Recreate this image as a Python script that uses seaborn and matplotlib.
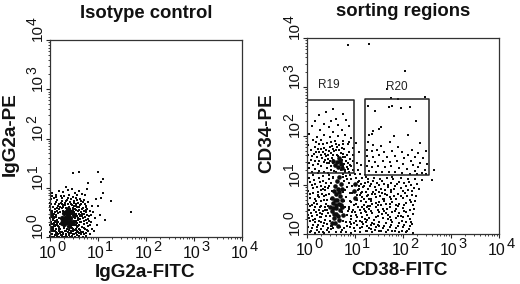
import numpy as np
import matplotlib
matplotlib.use('Agg')
import matplotlib.pyplot as plt
import matplotlib.ticker as mticker
import seaborn as sns

sns.set_style('white')
plt.rcParams['font.family'] = ['Liberation Sans', 'DejaVu Sans']

# all points are log10 positions (decades)
iso_dots = [
    (0.48,1.30),(0.60,1.32),(1.00,1.32),(1.10,1.17),(1.07,1.12),(0.80,1.10),(0.78,0.98),(1.10,0.90),
    (1.07,0.80),(0.95,0.78),(1.27,0.73),(1.68,0.50),(1.15,0.35),(1.00,0.62),(1.05,0.45),(0.88,0.62),
    (0.90,0.50),(0.93,0.38),(0.85,0.30),(0.97,0.25),(0.87,0.17),(0.82,0.42),(0.80,0.72),(0.76,0.60),
    (0.33,1.02),(0.37,0.95),(0.27,0.92),(0.45,0.97),(0.52,0.90),(0.60,0.93),(0.66,0.88),(0.72,0.85),
    (0.05,0.90),(0.12,0.86),(0.18,0.93),(0.22,0.84),(0.30,0.83),(0.40,0.86),(0.47,0.82),(0.55,0.80),
    (0.62,0.78),(0.70,0.75),(0.75,0.50),(0.08,0.80),(0.15,0.76),(0.25,0.74),(0.35,0.76),(0.42,0.72),
    (0.50,0.74),(0.58,0.70),(0.65,0.68),(0.72,0.66),(0.78,0.45),(0.02,0.78),(0.01,0.70),(0.10,0.68),
    (0.18,0.66),(0.28,0.65),(0.37,0.67),(0.46,0.64),(0.54,0.62),(0.61,0.60),(0.68,0.58),(0.74,0.55),
    (0.01,0.62),(0.07,0.60),(0.14,0.58),(0.21,0.60),(0.52,0.56),(0.58,0.52),(0.65,0.50),(0.71,0.46),
    (0.01,0.54),(0.05,0.52),(0.11,0.50),(0.16,0.48),(0.55,0.46),(0.62,0.42),(0.68,0.38),(0.74,0.34),
    (0.02,0.46),(0.07,0.44),(0.12,0.41),(0.53,0.38),(0.59,0.34),(0.65,0.30),(0.71,0.26),(0.79,0.22),
    (0.01,0.38),(0.06,0.36),(0.11,0.32),(0.55,0.30),(0.61,0.25),(0.67,0.20),(0.73,0.16),(0.80,0.12),
    (0.02,0.30),(0.08,0.28),(0.13,0.24),(0.50,0.24),(0.56,0.20),(0.62,0.15),(0.68,0.11),(0.75,0.08),
    (0.01,0.24),(0.06,0.20),(0.12,0.17),(0.18,0.20),(0.45,0.18),(0.52,0.14),(0.58,0.10),(0.64,0.06),
    (0.02,0.16),(0.07,0.13),(0.13,0.10),(0.19,0.13),(0.25,0.10),(0.31,0.13),(0.38,0.10),(0.44,0.08),
    (0.50,0.06),(0.56,0.04),(0.01,0.10),(0.05,0.06),(0.10,0.04),(0.16,0.06),(0.22,0.04),(0.28,0.06),
    (0.34,0.03),(0.40,0.05),(0.46,0.02),(0.52,0.01),(0.60,0.02),(0.68,0.01),(0.74,0.03),(0.01,0.03),
    (0.04,0.01),(0.09,0.01),(0.14,0.02),(0.19,0.01),(0.24,0.02),(0.30,0.01),(0.36,0.01),(0.42,0.01),
    (0.03,0.67),(0.13,0.71),(0.23,0.69),(0.33,0.73),(0.43,0.66),(0.49,0.69),(0.57,0.75),(0.63,0.64),
    (0.69,0.71),(0.77,0.57),(0.83,0.53),(0.67,0.47),(0.73,0.41),(0.79,0.36),(0.84,0.24),(0.71,0.33),
    (0.63,0.37),(0.57,0.43),(0.61,0.55),(0.55,0.67),(0.47,0.59),(0.41,0.56),(0.27,0.61),(0.19,0.56),
    (0.09,0.47),(0.15,0.53),(0.04,0.41),(0.14,0.35),(0.09,0.39),(0.17,0.31),(0.04,0.27),(0.10,0.22),
    (0.16,0.23),(0.21,0.17),(0.29,0.18),(0.39,0.14),(0.47,0.12),(0.54,0.17),(0.59,0.23),(0.64,0.11),
    (0.70,0.19),(0.77,0.14),(0.83,0.06),(0.71,0.06),(0.61,0.08),(0.54,0.08),(0.48,0.16),(0.33,0.07),
    (0.20,0.08),(0.12,0.07),(0.07,0.17),(0.03,0.20),(0.57,0.28),(0.60,0.46),(0.66,0.57),(0.74,0.63),
    (0.82,0.33),(0.86,0.45),(0.78,0.29),(0.91,0.13),(0.66,0.42),(0.57,0.60),(0.51,0.50),(0.70,0.52),
    (0.37,0.80),(0.24,0.79),(0.13,0.81),(0.57,0.85),(0.44,0.78),(0.04,0.84),(0.64,0.74),(0.31,0.70),
]
iso_mid = [
    (0.10,0.56),(0.16,0.62),(0.24,0.58),(0.32,0.64),(0.40,0.60),(0.48,0.54),(0.52,0.46),(0.50,0.32),
    (0.54,0.24),(0.44,0.12),(0.36,0.16),(0.18,0.16),(0.08,0.24),(0.06,0.34),(0.04,0.48),(0.14,0.08),
    (0.28,0.08),(0.40,0.08),(0.02,0.16),(0.02,0.30),(0.02,0.44),(0.56,0.12),(0.58,0.38),(0.62,0.30),
    (0.21,0.26),(0.13,0.44),(0.20,0.50),(0.45,0.25),(0.30,0.20),(0.11,0.13),(0.50,0.40),(0.34,0.58),
    (0.15,0.27),(0.19,0.38),(0.27,0.52),(0.43,0.66),(0.55,0.55),(0.60,0.17),(0.33,0.12),(0.22,0.11),
    (0.08,0.40),(0.12,0.30),(0.05,0.13),(0.26,0.68),(0.49,0.62),(0.64,0.44),(0.54,0.33),(0.48,0.07),
]
iso_core = [
    (0.37,0.44),(0.31,0.38),(0.42,0.38),(0.36,0.31),(0.29,0.48),(0.44,0.50),(0.37,0.56),(0.24,0.38),
    (0.47,0.30),(0.30,0.26),(0.40,0.23),(0.50,0.44),(0.25,0.28),(0.33,0.50),(0.40,0.50),(0.28,0.33),
    (0.34,0.37),(0.42,0.30),
]

sort_dots = [
    (0.85,3.85),(1.30,3.88),(2.05,3.33),(1.67,2.95),(1.75,2.78),(1.90,2.75),(2.45,2.80),(2.65,1.30),
    (2.60,1.10),(0.55,2.55),(0.40,2.48),(0.75,2.45),(0.25,2.42),(0.60,2.35),(0.16,2.30),(0.82,2.32),
    (0.50,2.30),(0.35,2.25),(0.65,2.22),(0.10,2.20),(0.88,2.20),(0.45,2.18),(0.72,2.12),(0.27,2.12),
    (0.55,2.08),(0.05,2.05),(0.36,2.03),(0.80,2.02),(0.64,2.00),(0.20,1.98),(0.48,1.97),(0.92,1.95),
    (0.30,1.92),(0.12,1.92),(0.58,1.90),(0.75,1.90),(0.42,1.86),(0.85,1.84),(0.25,1.84),(0.03,1.82),
    (0.66,1.82),(0.52,1.80),(0.16,1.78),(0.35,1.76),(0.95,1.76),(0.78,1.74),(0.08,1.72),(0.60,1.72),
    (0.46,1.70),(0.26,1.68),(0.88,1.68),(0.70,1.66),(0.14,1.64),(0.38,1.64),(0.02,1.62),(0.96,1.62),
    (0.54,1.62),(0.20,1.58),(0.80,1.58),(0.32,1.56),(0.90,1.54),(0.08,1.52),(0.44,1.54),(0.16,1.48),
    (0.26,1.50),(0.96,1.48),(0.04,1.44),(0.36,1.46),(0.86,1.44),(0.12,1.40),(0.22,1.42),(0.92,1.38),
    (0.30,1.38),(0.04,1.34),(0.16,1.32),(0.42,1.34),(0.86,1.32),(0.96,1.30),(0.26,1.28),(0.10,1.27),
    (0.35,1.26),(0.80,1.27),(1.05,1.45),(1.08,1.68),(1.02,1.85),(1.06,1.30),(1.12,1.40),(1.10,1.22),
    (1.27,2.62),(1.42,2.52),(1.70,2.60),(1.78,2.62),(1.95,2.58),(2.15,2.60),(2.28,2.30),(1.50,2.15),
    (1.55,2.18),(1.38,2.10),(1.35,2.05),(1.30,2.03),(1.82,2.00),(2.10,2.03),(2.35,1.85),(2.48,1.70),
    (1.28,1.88),(1.38,1.82),(1.55,1.80),(1.72,1.88),(1.90,1.78),(2.18,1.72),(2.32,1.65),(1.26,1.72),
    (1.35,1.70),(1.46,1.72),(1.60,1.68),(1.78,1.70),(1.98,1.68),(2.10,1.62),(2.25,1.58),(2.42,1.55),
    (1.26,1.60),(1.38,1.58),(1.50,1.62),(1.66,1.58),(1.84,1.60),(2.02,1.55),(2.16,1.50),(2.36,1.45),
    (2.50,1.42),(1.30,1.50),(1.42,1.46),(1.58,1.50),(1.72,1.46),(1.88,1.48),(2.00,1.42),(2.20,1.40),
    (2.32,1.36),(2.46,1.30),(1.26,1.38),(1.36,1.36),(1.48,1.38),(1.62,1.36),(1.76,1.38),(1.92,1.34),
    (2.08,1.32),(2.25,1.28),(2.40,1.24),(1.30,1.28),(1.44,1.26),(1.56,1.27),(1.70,1.26),(1.84,1.26),
    (1.98,1.24),(2.14,1.23),(2.30,1.22),(2.48,1.22),
    (1.15,1.15),(1.28,1.12),(1.40,1.14),(1.52,1.12),(1.66,1.14),(1.80,1.12),(1.95,1.14),(2.10,1.12),
    (2.25,1.13),(2.40,1.10),(1.20,1.05),(1.34,1.02),(1.46,1.05),(1.60,1.02),(1.74,1.05),(1.88,1.02),
    (2.02,1.04),(2.16,1.00),(2.30,1.02),(1.16,0.95),(1.28,0.92),(1.42,0.95),(1.55,0.92),(1.68,0.95),
    (1.82,0.92),(1.96,0.94),(2.10,0.90),(2.22,0.93),(1.22,0.85),(1.36,0.82),(1.50,0.85),(1.62,0.82),
    (1.76,0.85),(1.90,0.82),(2.04,0.84),(2.18,0.80),(1.15,0.75),(1.30,0.72),(1.44,0.75),(1.58,0.72),
    (1.72,0.75),(1.86,0.72),(2.00,0.74),(2.14,0.70),(2.26,0.68),(1.22,0.65),(1.36,0.62),(1.50,0.65),
    (1.64,0.62),(1.78,0.65),(1.92,0.62),(2.06,0.64),(2.20,0.60),(1.15,0.55),(1.30,0.52),(1.44,0.55),
    (1.58,0.52),(1.72,0.55),(1.86,0.52),(2.00,0.54),(2.14,0.50),(1.22,0.45),(1.36,0.42),(1.50,0.45),
    (1.64,0.42),(1.78,0.45),(1.92,0.42),(2.06,0.44),(2.20,0.40),(1.15,0.35),(1.30,0.32),(1.44,0.35),
    (1.58,0.32),(1.72,0.35),(1.86,0.32),(2.00,0.34),(2.14,0.30),(1.22,0.25),(1.36,0.22),(1.50,0.25),
    (1.64,0.22),(1.78,0.25),(1.92,0.22),(2.06,0.24),(2.18,0.20),(1.15,0.15),(1.30,0.12),(1.44,0.15),
    (1.58,0.12),(1.72,0.15),(1.86,0.12),(2.00,0.14),(2.12,0.10),(1.22,0.06),(1.36,0.04),(1.50,0.06),
    (1.64,0.04),(1.78,0.06),(1.92,0.04),(2.06,0.05),(2.20,0.03),(1.10,0.04),
    (1.12,0.68),(1.18,0.60),(1.10,0.48),(1.24,0.38),(1.10,0.26),(1.26,0.16),(1.10,0.12),(1.20,0.30),
    (0.05,1.15),(0.14,1.10),(0.24,1.14),(0.34,1.08),(0.10,1.00),(0.20,0.96),(0.30,0.98),(0.40,1.05),
    (0.03,0.88),(0.12,0.84),(0.22,0.86),(0.32,0.82),(0.06,0.74),(0.16,0.72),(0.26,0.75),(0.36,0.70),
    (0.02,0.62),(0.10,0.60),(0.20,0.62),(0.30,0.58),(0.40,0.62),(0.05,0.50),(0.14,0.48),(0.24,0.50),
    (0.34,0.46),(0.02,0.38),(0.10,0.36),(0.20,0.38),(0.30,0.34),(0.06,0.26),(0.16,0.24),(0.26,0.27),
    (0.36,0.22),(0.02,0.14),(0.10,0.12),(0.20,0.14),(0.30,0.10),(0.06,0.04),(0.16,0.03),(0.26,0.05),
    (0.36,0.03),(0.46,0.04),(0.70,0.04),(0.82,0.05),(0.92,0.03),(1.00,0.06),(0.90,0.14),(0.98,0.22),
    (0.92,0.30),(1.02,0.38),(0.94,0.44),(1.04,0.18),(0.42,0.20),(0.40,0.36),(0.42,0.50),
    (1.13,1.03),(1.23,1.17),(1.31,0.97),(1.37,1.09),(1.43,0.89),(1.49,0.99),(1.57,1.08),(1.63,0.89),
    (1.69,1.01),(1.77,1.16),(1.83,0.97),(1.91,1.07),(1.99,0.87),(2.07,0.97),(2.13,1.06),(2.19,0.87),
    (2.27,0.78),(2.33,0.92),(1.13,0.83),(1.19,0.71),(1.27,0.79),(1.33,0.67),(1.41,0.81),(1.47,0.59),
    (1.53,0.77),(1.61,0.67),(1.67,0.79),(1.73,0.61),(1.81,0.77),(1.89,0.57),(1.95,0.77),(2.03,0.59),
    (2.09,0.77),(2.17,0.66),(2.23,0.51),(1.13,0.43),(1.19,0.51),(1.27,0.57),(1.33,0.47),(1.39,0.29),
    (1.47,0.37),(1.55,0.59),(1.61,0.47),(1.69,0.38),(1.75,0.29),(1.83,0.47),(1.89,0.37),(1.97,0.27),
    (2.03,0.47),(2.11,0.37),(2.17,0.25),(1.17,0.21),(1.25,0.07),(1.33,0.19),(1.41,0.08),(1.47,0.19),
    (1.55,0.07),(1.61,0.17),(1.69,0.09),(1.75,0.19),(1.83,0.07),(1.89,0.17),(1.97,0.07),(2.03,0.18),
    (2.09,0.07),(2.15,0.16),(0.07,1.07),(0.17,1.03),(0.27,1.07),(0.37,0.89),(0.13,0.93),(0.23,0.79),
    (0.33,0.91),(0.43,0.93),(0.07,0.81),(0.19,0.67),(0.29,0.67),(0.39,0.79),(0.07,0.57),(0.17,0.55),
    (0.27,0.43),(0.37,0.55),(0.09,0.43),(0.17,0.31),(0.27,0.35),(0.37,0.29),(0.04,0.32),(0.13,0.19),
    (0.23,0.19),(0.33,0.17),(0.43,0.13),(0.09,0.07),(0.21,0.08),(0.33,0.05),(0.41,0.09),(0.49,0.16),
    (0.83,0.16),(0.89,0.24),(0.97,0.13),(1.03,0.27),(0.91,0.37),(0.99,0.45),(0.87,0.51),(1.07,0.55),
    (0.89,0.67),(1.05,0.69),(1.11,0.79),(0.89,0.83),(1.09,0.91),(0.88,1.04),(1.09,1.09),(0.90,1.20),
    (0.13,1.21),(0.23,1.24),(0.33,1.18),(0.45,1.20),(0.55,1.17),(0.74,1.22),(0.82,1.18),(1.01,1.22),
    (0.41,1.44),(0.49,1.38),(0.55,1.44),(0.76,1.38),(0.83,1.37),(0.47,1.50),(0.55,1.52),(0.76,1.58),
    (0.62,1.62),(0.40,1.72),(0.55,1.74),(0.66,1.72),(0.84,1.62),(0.30,1.62),(0.44,1.62),(0.22,1.74),
    (0.10,1.60),(0.18,1.68),(0.74,1.84),(0.60,1.84),(0.50,1.88),(0.34,1.84),(0.88,1.88),(0.18,1.88),
]
sort_mid = [
    (0.40,1.60),(0.52,1.55),(0.72,1.52),(0.82,1.50),(0.46,1.44),(0.78,1.42),(0.56,1.70),(0.72,1.76),
    (0.62,1.78),(0.48,1.78),(0.34,1.68),(0.90,1.40),(0.80,1.30),(0.56,1.28),(0.70,1.30),(0.44,1.24),
    (1.02,1.15),(0.92,1.12),(0.46,1.12),(0.38,0.95),(1.08,0.98),(0.50,1.04),(0.78,1.08),(1.05,0.80),
    (0.46,0.82),(0.42,0.70),(0.84,0.95),(0.82,0.75),(1.02,0.62),(0.88,0.55),(0.44,0.58),(0.84,0.38),
    (0.95,0.50),(0.82,0.24),(0.92,0.20),(0.50,0.10),(0.78,0.12),(0.60,0.04),(1.14,0.86),(1.24,0.78),
    (1.32,0.58),(1.38,0.86),(1.20,0.46),(1.48,0.48),(1.60,0.72),(1.68,0.30),(1.40,0.20),(1.85,0.60),
    (1.96,0.36),(1.76,0.90),(1.14,0.24),(1.05,0.34),
    (0.47,0.27),(0.53,0.17),(0.43,0.43),(0.75,0.27),(0.79,0.55),(0.73,0.45),(0.77,0.68),(0.74,0.86),
    (0.80,0.90),(0.52,0.88),(0.46,0.98),(0.54,1.14),(0.74,1.16),(0.84,1.12),(0.94,0.98),(0.94,0.84),
    (0.92,0.66),(1.06,1.06),(1.06,0.90),(0.98,0.60),(0.55,0.12),(0.68,0.14),(0.72,0.08),(0.86,0.46),
    (0.48,0.36),(0.50,0.72),(0.38,0.50),(0.36,0.78),(0.30,0.90),(0.28,0.56),(0.32,0.40),(0.30,0.24),
    (0.18,0.44),(0.14,0.64),(0.22,0.78),(0.12,0.28),(1.18,0.98),(1.28,1.06),(1.34,0.72),(1.24,0.56),
    (1.44,0.64),(1.56,0.84),(1.56,0.40),(1.26,0.28),(1.34,0.10),(1.50,0.16),(1.66,0.52),(1.74,0.72),
    (0.64,1.60),(0.74,1.64),(0.50,1.66),(0.38,1.52),(0.88,1.26),(0.50,1.30),(0.60,1.26),(0.30,1.74),
]
sort_core = [
    (0.62,1.47),(0.68,1.50),(0.58,1.40),(0.70,1.42),(0.64,1.36),(0.72,1.34),(0.54,1.48),(0.66,1.56),
    (0.62,1.08),(0.70,1.02),(0.64,0.92),(0.60,0.82),(0.68,0.78),(0.58,0.70),(0.66,0.62),(0.60,0.54),
    (0.54,0.64),(0.68,0.48),(0.60,0.40),(0.56,0.32),(0.66,0.28),(0.58,0.22),(0.52,0.46),(0.48,0.56),
    (0.72,0.92),(0.66,1.16),(0.58,0.98),(1.00,1.02),(0.98,0.88),(1.00,0.74),(0.56,0.88),(0.72,0.70),
    (0.52,0.74),(0.72,0.56),(0.64,0.36),(0.52,0.22),(0.74,0.38),(0.62,0.70),(0.66,0.86),(0.60,0.60),
    (0.64,0.16),(0.54,0.54),(0.56,0.40),(0.70,0.60),
]

# gates (decades): x0, x1, y0, y1
r19_gate = (0.01, 0.98, 1.25, 2.74)
r20_gate = (1.20, 2.55, 1.21, 2.75)

tick_pos = [1, 10, 100, 1000, 10000]
tick_exp = ['0', '1', '2', '3', '4']


def draw_dots(ax, points, size, marker='s'):
    pts = 10 ** np.array(points)
    sns.scatterplot(x=pts[:, 0], y=pts[:, 1], ax=ax, s=size, color='#0d0d0d',
                    marker=marker, linewidth=0, legend=False, clip_on=False)


def setup_panel(ax, title, xlabel, ylabel, xlab_pos, ylab_pos):
    ax.set_xscale('log')
    ax.set_yscale('log')
    ax.set_xlim(1, 10000)
    ax.set_ylim(1, 10000)
    ax.set_xticks(tick_pos)
    ax.set_yticks(tick_pos)
    for axis in [ax.xaxis, ax.yaxis]:
        axis.set_minor_locator(mticker.LogLocator(base=10, subs=np.arange(2, 10), numticks=10))
        axis.set_minor_formatter(mticker.NullFormatter())
    ax.tick_params(which='major', direction='out', length=3, width=0.8,
                   bottom=True, left=True, color='#222222', labelbottom=False, labelleft=False)
    ax.tick_params(which='minor', direction='out', length=1.5, width=0.6,
                   bottom=True, left=True, color='#222222')
    for s in ax.spines.values():
        s.set_linewidth(0.9)
        s.set_color('#333333')

    # tick labels, exponent nearly as large as the base like the original
    xtr = ax.get_xaxis_transform()
    ytr = ax.get_yaxis_transform()
    for t, e in zip(tick_pos, tick_exp):
        ax.annotate('10', (t, 0), xycoords=xtr, xytext=(5, -12), textcoords='offset points',
                    ha='right', va='center', fontsize=11.5, color='#111111')
        ax.annotate(e, (t, 0), xycoords=xtr, xytext=(5.2, -7), textcoords='offset points',
                    ha='left', va='center', fontsize=10.5, color='#111111')
        ax.annotate('10', (0, t), xycoords=ytr, xytext=(-8.6, -1), textcoords='offset points',
                    ha='center', va='bottom', rotation=90, fontsize=11, color='#111111')
        ax.annotate(e, (0, t), xycoords=ytr, xytext=(-12.6, 11), textcoords='offset points',
                    ha='center', va='bottom', rotation=90, fontsize=10, color='#111111')

    ax.set_xlabel(xlabel, fontsize=13.6, fontweight='bold', color='#111111', va='center')
    ax.set_ylabel(ylabel, fontsize=13.6, fontweight='bold', color='#111111', va='center')
    ax.xaxis.set_label_coords(*xlab_pos)
    ax.yaxis.set_label_coords(*ylab_pos)
    ax.set_title(title, fontsize=13.3, fontweight='bold', pad=16, color='#111111')


fig = plt.figure(figsize=(5.2, 2.84), dpi=100)
ax1 = fig.add_axes([50 / 520, 47 / 284, 192 / 520, 197 / 284])
ax2 = fig.add_axes([307 / 520, 50 / 284, 192 / 520, 196 / 284])

draw_dots(ax1, iso_dots, 1.0)
draw_dots(ax1, iso_mid, 3.0)
draw_dots(ax1, iso_core, 14, marker='o')
setup_panel(ax1, 'Isotype control', 'IgG2a-FITC', 'IgG2a-PE', (0.495, -0.178), (-0.208, 0.523))

draw_dots(ax2, sort_dots, 1.0)
draw_dots(ax2, sort_mid, 2.6)
draw_dots(ax2, sort_core, 11, marker='o')
setup_panel(ax2, 'sorting regions', 'CD38-FITC', 'CD34-PE', (0.484, -0.184), (-0.208, 0.515))

for gate in [r19_gate, r20_gate]:
    gx = [gate[0], gate[1], gate[1], gate[0], gate[0]]
    gy = [gate[2], gate[2], gate[3], gate[3], gate[2]]
    ax2.plot(10 ** np.array(gx), 10 ** np.array(gy), color='#222222', lw=1.1)
ax2.text(10 ** 0.45, 10 ** 3.05, 'R19', fontsize=8.5, ha='center', va='center', color='#222222')
ax2.text(10 ** 1.87, 10 ** 3.0, 'R20', fontsize=8.5, ha='center', va='center', color='#222222')

fig.savefig('out.png', dpi=100)
